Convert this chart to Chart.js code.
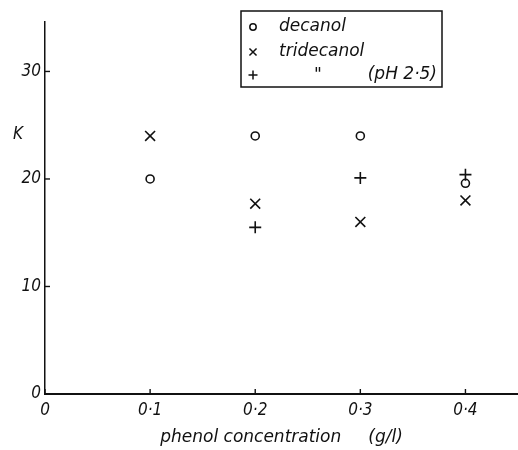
<!DOCTYPE html>
<html>
<head>
<meta charset="utf-8">
<script src="https://cdn.jsdelivr.net/npm/chart.js@4/dist/chart.umd.min.js"></script>
<style>
  body { margin: 0; background: #fff; }
</style>
</head>
<body>
<canvas id="chart" width="518" height="450"></canvas>
<script>
// data
var concentrations = [0.1, 0.2, 0.3, 0.4];
var decanolK = [20, 24, 24, 19.6];
var tridecanolK = [24, 17.7, 16, 18];
var tridecanolPh25K = [null, 15.5, 20.1, 20.4];
var seriesLabels = ['decanol', 'tridecanol', '"|(pH 2·5)'];
var xTicks = [0, 0.1, 0.2, 0.3, 0.4];
var xTickLabels = ['0', '0·1', '0·2', '0·3', '0·4'];
var yTicks = [0, 10, 20, 30];
var yTickLabels = ['0', '10', '20', '30'];

var condensed = "'DejaVu Sans Condensed', 'DejaVu Sans', sans-serif";
var fontFamily = "'DejaVu Sans', sans-serif";
var ink = '#111';

var toPoints = function(ys) {
    var pts = [];
    for (var i = 0; i < concentrations.length; i++) {
        if (ys[i] !== null) pts.push({x: concentrations[i], y: ys[i]});
    }
    return pts;
};

var makeSet = function(label, ys, style, radius) {
    return {
        label: label,
        data: toPoints(ys),
        pointStyle: style,
        pointRadius: radius,
        pointBorderWidth: 1.6,
        borderColor: ink,
        backgroundColor: 'rgba(0,0,0,0)',
        pointBorderColor: ink,
        showLine: false
    };
};

// inner tick marks + "K" label + boxed legend
var decorations = {
    id: 'decorations',
    afterDraw: function(chart) {
        var ctx = chart.ctx;
        var xs = chart.scales.x, ys = chart.scales.y;
        var area = chart.chartArea;
        ctx.save();
        ctx.strokeStyle = ink;
        ctx.lineWidth = 1.4;
        xTicks.forEach(function(v) {
            var px = xs.getPixelForValue(v);
            ctx.beginPath();
            ctx.moveTo(px, area.bottom);
            ctx.lineTo(px, area.bottom - 5);
            ctx.stroke();
        });
        yTicks.forEach(function(v) {
            var py = ys.getPixelForValue(v);
            ctx.beginPath();
            ctx.moveTo(area.left, py);
            ctx.lineTo(area.left + 5, py);
            ctx.stroke();
        });

        ctx.fillStyle = ink;
        ctx.font = 'italic 17px ' + condensed;
        ctx.textAlign = 'left';
        ctx.textBaseline = 'middle';
        ctx.fillText('K', 13, 135);

        // legend box
        ctx.lineWidth = 1.5;
        ctx.strokeRect(241, 11, 201, 76);
        var rowY = [27, 52, 75];
        ctx.font = 'italic 17px ' + fontFamily;
        chart.data.datasets.forEach(function(ds, i) {
            ctx.fillStyle = 'rgba(0,0,0,0)';
            Chart.helpers.drawPoint(ctx, {
                pointStyle: ds.pointStyle,
                radius: ds.pointStyle === 'circle' ? 3.2 : (ds.pointStyle === 'cross' ? 4.5 : 5),
                rotation: 0,
                borderWidth: 1.5
            }, 253, rowY[i]);
            ctx.fillStyle = ink;
            var parts = seriesLabels[i].split('|');
            ctx.textAlign = 'left';
            if (parts.length > 1) {
                ctx.fillText(parts[0], 314, rowY[i] + 1);
                ctx.textAlign = 'right';
                ctx.fillText(parts[1], 437, rowY[i]);
            } else {
                ctx.fillText(parts[0], 279, rowY[i]);
            }
        });
        ctx.restore();
    }
};

new Chart(document.getElementById('chart'), {
    type: 'scatter',
    data: {
        datasets: [
            makeSet(seriesLabels[0], decanolK, 'circle', 4),
            makeSet(seriesLabels[1], tridecanolK, 'crossRot', 7),
            makeSet(seriesLabels[2], tridecanolPh25K, 'cross', 6)
        ]
    },
    options: {
        responsive: false,
        animation: false,
        layout: { autoPadding: false, padding: { top: 22, right: 0, left: 0, bottom: 0 } },
        plugins: {
            legend: { display: false },
            tooltip: { enabled: false }
        },
        scales: {
            x: {
                type: 'linear',
                min: 0,
                max: 0.45,
                afterBuildTicks: function(scale) {
                    scale.ticks = xTicks.map(function(v) { return {value: v}; });
                },
                afterFit: function(scale) { scale.height = 56; },
                grid: { display: false, drawTicks: false },
                border: { display: true, color: ink, width: 2 },
                ticks: {
                    padding: 6,
                    color: ink,
                    font: { family: condensed, size: 17, style: 'italic' },
                    callback: function(v) {
                        var i = xTicks.indexOf(Math.round(v * 10) / 10);
                        return i >= 0 ? xTickLabels[i] : '';
                    }
                },
                title: {
                    display: true,
                    text: 'phenol concentration     (g/l)',
                    color: ink,
                    padding: { top: 4, bottom: 2 },
                    font: { family: fontFamily, size: 17, style: 'italic' }
                }
            },
            y: {
                type: 'linear',
                min: 0,
                max: 34.6,
                afterBuildTicks: function(scale) {
                    scale.ticks = yTicks.map(function(v) { return {value: v}; });
                },
                afterFit: function(scale) { scale.width = 45; },
                grid: { display: false, drawTicks: false },
                border: { display: true, color: ink, width: 1.5 },
                ticks: {
                    padding: 4,
                    color: ink,
                    font: { family: condensed, size: 17, style: 'italic' },
                    callback: function(v) {
                        var i = yTicks.indexOf(v);
                        return i >= 0 ? yTickLabels[i] : '';
                    }
                }
            }
        }
    },
    plugins: [decorations]
});
</script>
</body>
</html>
